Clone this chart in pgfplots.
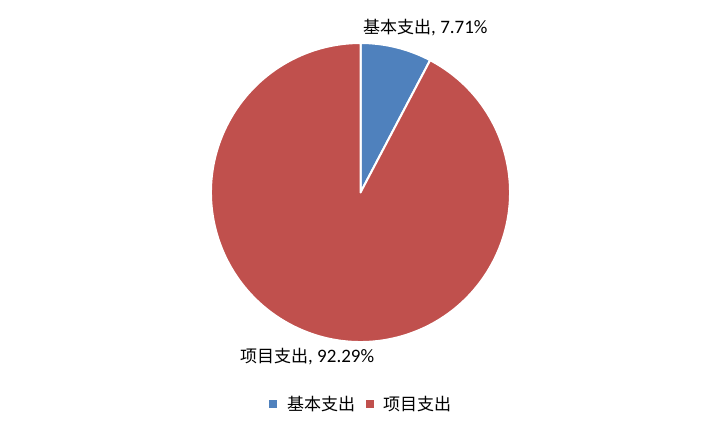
\documentclass[border=0pt]{standalone}
\usepackage{pgfplots}
\pgfplotsset{compat=1.18}
\usepackage{fontspec}
\setmainfont{Carlito}
\newfontfamily\cjk{Noto Sans CJK SC}
\definecolor{pieblue}{HTML}{4F81BD}
\definecolor{piered}{HTML}{C0504D}
\pgfdeclareplotmark{nothing}{}
\pgfplotsset{
  pieslice/.style={
    only marks, scatter, mark=nothing,
    visualization depends on={\thisrow{v} \as \pv},
    visualization depends on={\thisrow{c} \as \pc},
    scatter/@pre marker code/.code={%
      \pgfmathsetmacro\sa{90-3.6*\pc}%
      \pgfmathsetmacro\da{-3.6*\pv}%
      \path[fill=#1, draw=white, line width=2pt, line join=round]
        (0,0) -- (\sa:149.5pt) arc[start angle=\sa, delta angle=\da, radius=149.5pt] -- cycle;
    },
    scatter/@post marker code/.code={},
  }
}
\newcommand\lat{\fontsize{19}{20}\selectfont}
\begin{document}
\begin{tikzpicture}
\begin{axis}[
  width=722pt, height=434pt, scale only axis,
  xmin=0, xmax=722, ymin=0, ymax=434, y dir=reverse,
  hide axis, clip=false,
]
\path (axis cs:0,0) rectangle (axis cs:722,434);
\addplot[pieslice=pieblue] table {
x y v c
360.5 192.5 7.71 0
};
\addplot[pieslice=piered] table {
x y v c
360.5 192.5 92.29 7.71
};
\node[anchor=west, inner sep=0pt, font=\fontsize{17}{20}\selectfont] at (axis cs:363,28) {{\cjk 基本支出}{\lat, 7.71\%}};
\node[anchor=west, inner sep=0pt, font=\fontsize{17}{20}\selectfont] at (axis cs:240,357) {{\cjk 项目支出}{\lat, 92.29\%}};
\node[fill=pieblue, minimum size=8pt, inner sep=0pt] at (axis cs:273,404) {};
\node[anchor=west, inner sep=0pt, font=\fontsize{17}{20}\selectfont\cjk] at (axis cs:287,404) {基本支出};
\node[fill=piered, minimum size=8pt, inner sep=0pt] at (axis cs:370,404) {};
\node[anchor=west, inner sep=0pt, font=\fontsize{17}{20}\selectfont\cjk] at (axis cs:383,404) {项目支出};
\end{axis}
\end{tikzpicture}
\end{document}
